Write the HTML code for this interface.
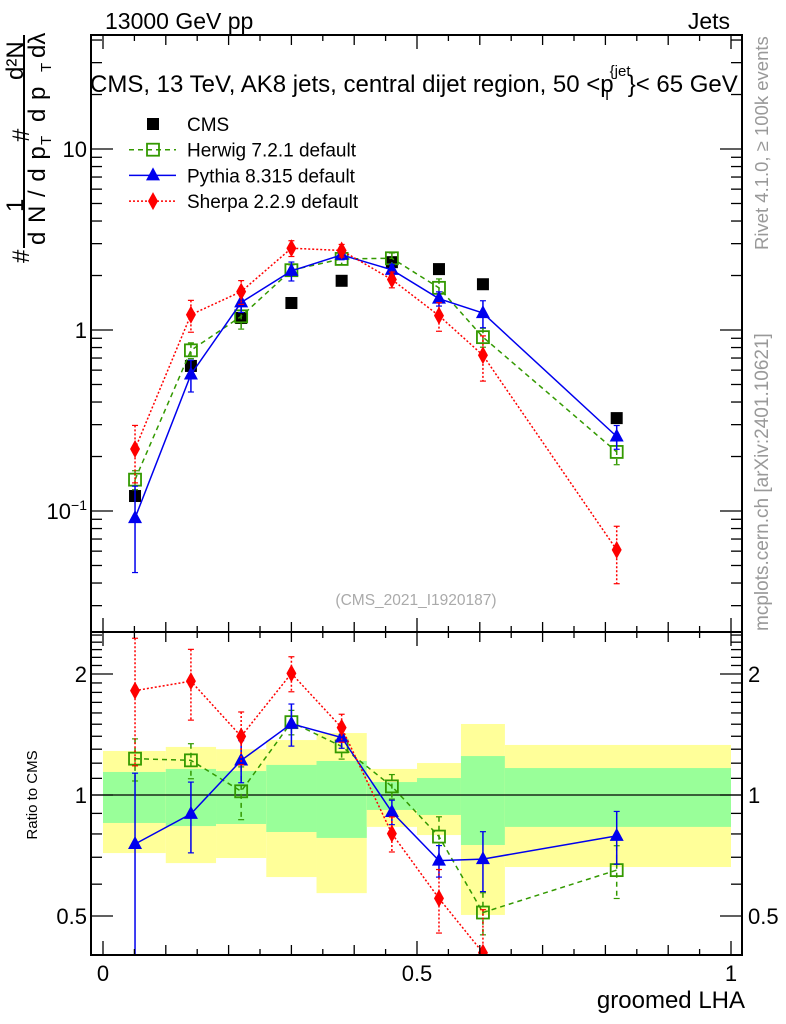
<!DOCTYPE html>
<html><head><meta charset="utf-8"><style>
html,body{margin:0;padding:0;background:#fff;overflow:hidden;width:786px;height:1024px;}
svg{display:block;font-family:"Liberation Sans",sans-serif;}
</style></head><body>
<svg id="c" width="786" height="1024" viewBox="0 0 786 1024" xmlns="http://www.w3.org/2000/svg">
<text x="105" y="29" font-size="23">13000 GeV pp</text>
<text x="730" y="29" font-size="23" text-anchor="end">Jets</text>
<text x="90" y="92" font-size="24">CMS, 13 TeV, AK8 jets, central dijet region, 50 &lt;p<tspan font-size="15" dy="-16" dx="-4">{jet</tspan><tspan font-size="15" dy="24" dx="-28">T</tspan><tspan dy="-8" dx="16">}&lt; 65 GeV</tspan></text>
<text transform="translate(768,250) rotate(-90)" font-size="18.5" fill="#999">Rivet 4.1.0, ≥ 100k events</text>
<text transform="translate(768,631) rotate(-90)" font-size="19" fill="#999">mcplots.cern.ch [arXiv:2401.10621]</text>
<text x="416" y="605" font-size="15.5" fill="#aaa" text-anchor="middle">(CMS_2021_I1920187)</text>
<g font-size="24">
<line x1="24" y1="35" x2="24" y2="248" stroke="#000" stroke-width="2"/>
<text transform="translate(29,263) rotate(-90)">#</text>
<text transform="translate(23,212) rotate(-90)">1</text>
<text transform="translate(45,245) rotate(-90)" letter-spacing="1">d N / d p</text>
<text transform="translate(51,145) rotate(-90)" font-size="15">T</text>
<text transform="translate(29,142) rotate(-90)">#</text>
<text transform="translate(23,80) rotate(-90)">d²N</text>
<text transform="translate(45,122) rotate(-90)" letter-spacing="1">d p</text>
<text transform="translate(51,72) rotate(-90)" font-size="15">T</text>
<text transform="translate(45,58) rotate(-90)">dλ</text>
</g>
<text transform="translate(37,795) rotate(-90)" font-size="15" text-anchor="middle">Ratio to CMS</text>
<text x="745" y="1008" font-size="24" text-anchor="end">groomed LHA</text>
<g id="bands"></g><g id="grid"></g><g id="series"></g><g id="axes"></g><g id="legend"></g>
</svg>
<script>
const xs = [0.051,0.14,0.22,0.30,0.38,0.46,0.535,0.605,0.818];
const cms = [0.121,0.633,1.165,1.41,1.87,2.37,2.17,1.79,0.326];
const herwig = [0.149,0.772,1.19,2.14,2.47,2.49,1.71,0.913,0.212];
const pythia = [0.0914,0.568,1.42,2.12,2.60,2.15,1.49,1.24,0.258];
const sherpa = [0.220,1.215,1.63,2.83,2.75,1.90,1.20,0.725,0.061];
const herwigErr = [0.12,0.1,0.15,0.07,0.07,0.07,0.12,0.12,0.15];
const pythiaErr = [0.5,0.2,0.12,0.12,0.06,0.07,0.09,0.17,0.15];
const sherpaErr = [0.35,0.2,0.15,0.1,0.08,0.1,0.18,0.28,0.35];
const binEdges = [0,0.1,0.18,0.26,0.34,0.42,0.5,0.57,0.64,1.0];
const band2Hi = [1.287,1.317,1.30,1.37,1.426,1.161,1.201,1.502,1.332];
const band1Hi = [1.141,1.161,1.147,1.188,1.215,1.077,1.102,1.25,1.167];
const band1Lo = [0.852,0.837,0.847,0.809,0.782,0.918,0.892,0.751,0.833];
const band2Lo = [0.717,0.677,0.697,0.625,0.570,0.833,0.795,0.503,0.662];
const mainTicks = [0.1,1,10];
const ratioTicks = [0.5,1,2];
const xTicks = [0,0.5,1];

const NS='http://www.w3.org/2000/svg';
const L=91,R=742,T=35,MB=632,RB=955;
const X=v=>103+v*628;
const Y=v=>330-181*Math.log10(v);
const YR=v=>795-121*Math.log2(v);
function mk(tag,attrs,parent){const e=document.createElementNS(NS,tag);for(const k in attrs)e.setAttribute(k,attrs[k]);document.getElementById(parent).appendChild(e);return e;}

for(let i=0;i<xs.length;i++){
  let r=mk('rect',{x:X(binEdges[i]),y:YR(band2Hi[i]),width:X(binEdges[i+1])-X(binEdges[i]),height:YR(band2Lo[i])-YR(band2Hi[i]),fill:'#ffff99'},'bands');
  
  
  let g=mk('rect',{x:X(binEdges[i]),y:YR(band1Hi[i]),width:X(binEdges[i+1])-X(binEdges[i]),height:YR(band1Lo[i])-YR(band1Hi[i]),fill:'#99ff99'},'bands');
  
  
}
mk('line',{x1:L,x2:R,y1:YR(1),y2:YR(1),stroke:'#000','stroke-width':1.2},'grid');

for(const [y0,y1] of [[T,MB],[MB,RB]]){
  const f=mk('rect',{x:L,y:y0,width:R-L,height:y1-y0,fill:'none',stroke:'#000','stroke-width':2},'axes');
  
  
}
for(let k=0;k<=20;k++){
  const v=k*0.05, x=X(v);
  const len = (k%10==0)?14:(k%2==0?10:6);
  for(const [yb,dir] of [[MB,-1],[T,1],[RB,-1],[MB,1]]){
    mk('line',{x1:x,x2:x,y1:yb,y2:yb+dir*len,stroke:'#000','stroke-width':1.3},'axes');
  }
}
xTicks.forEach(v=>{const t=mk('text',{x:X(v),y:981,'font-size':22,'text-anchor':'middle'},'axes');t.textContent=String(v);
  
  });
for(let d=-2;d<=1;d++)for(let m=1;m<=9;m++){
  const v=m*Math.pow(10,d), y=Y(v); if(y<T||y>MB)continue;
  const len=m==1?22:11;
  mk('line',{x1:L,x2:L+len,y1:y,y2:y,stroke:'#000','stroke-width':1.3},'axes');
  mk('line',{x1:R,x2:R-len,y1:y,y2:y,stroke:'#000','stroke-width':1.3},'axes');
}
mainTicks.forEach(v=>{const t=mk('text',{x:87,y:Y(v)+8,'font-size':22,'text-anchor':'end'},'axes');
  t.textContent = v==1?'1':'10';
  if(v==0.1){const s=document.createElementNS(NS,'tspan');s.setAttribute('dy','-9');s.setAttribute('font-size','14');s.textContent='−1';t.appendChild(s);}
  
  });
for(let k=4;k<=25;k++){
  const v=k/10,y=YR(v); if(y<MB||y>RB)continue;
  const len=(k==5||k==10||k==20)?22:11;
  mk('line',{x1:L,x2:L+len,y1:y,y2:y,stroke:'#000','stroke-width':1.3},'axes');
  mk('line',{x1:R,x2:R-len,y1:y,y2:y,stroke:'#000','stroke-width':1.3},'axes');
}
ratioTicks.forEach(v=>{
  const t=mk('text',{x:87,y:YR(v)+8,'font-size':22,'text-anchor':'end'},'axes');t.textContent=v==0.5?'0.5':String(v);
  
  
  const t2=mk('text',{x:748,y:YR(v)+8,'font-size':22},'axes');t2.textContent=v==0.5?'0.5':String(v);
  
  
});

const defs=mk('defs',{},'series');
defs.innerHTML='<clipPath id="clipMain"><rect x="91" y="35" width="651" height="597"/></clipPath><clipPath id="clipRatio"><rect x="91" y="632" width="651" height="323"/></clipPath>';
mk('g',{'clip-path':'url(#clipMain)',id:'gm'},'series');
mk('g',{'clip-path':'url(#clipRatio)',id:'gr'},'series');
function marker(kind,color,x,y,parent){
  let e;
  if(kind=='sq') e=mk('rect',{x:x-6,y:y-6,width:12,height:12,fill:'#000'},parent);
  else if(kind=='osq') e=mk('rect',{x:x-6,y:y-6,width:12,height:12,fill:'none',stroke:color,'stroke-width':1.8},parent);
  else if(kind=='tri') e=mk('polygon',{points:`${x},${y-8} ${x-7},${y+5} ${x+7},${y+5}`,fill:color},parent);
  else e=mk('polygon',{points:`${x},${y-9} ${x-5},${y} ${x},${y+9} ${x+5},${y}`,fill:color},parent);
  return e;
}
const models=[
 {name:'herwig',vals:herwig,err:herwigErr,color:'#339900',dash:'5,4',m:'osq'},
 {name:'pythia',vals:pythia,err:pythiaErr,color:'#0000ee',dash:'',m:'tri'},
 {name:'sherpa',vals:sherpa,err:sherpaErr,color:'#ff0000',dash:'2,2',m:'dia'}];
cms.forEach((v,i)=>{const e=marker('sq','#000',X(xs[i]),Y(v),'gm');
  
  });
models.forEach(md=>{
  for(const [gid,fy,ref] of [['gm',Y,null],['gr',YR,cms]]){
    const vv=md.vals.map((v,i)=>ref?v/ref[i]:v);
    const p=mk('polyline',{points:vv.map((v,i)=>X(xs[i])+','+fy(v)).join(' '),fill:'none',stroke:md.color,'stroke-width':1.5,'stroke-dasharray':md.dash},gid);
    
    
    vv.forEach((v,i)=>{
      const x=X(xs[i]),y1=fy(v*(1+md.err[i])),y2=fy(Math.max(v*(1-md.err[i]),1e-3));
      const eb=mk('line',{x1:x,x2:x,y1:y1,y2:y2,stroke:md.color,'stroke-width':1.5,'stroke-dasharray':md.dash},gid);
      
      
      mk('line',{x1:x-3,x2:x+3,y1:y1,y2:y1,stroke:md.color,'stroke-width':1.2},gid);
      mk('line',{x1:x-3,x2:x+3,y1:y2,y2:y2,stroke:md.color,'stroke-width':1.2},gid);
      const m=marker(md.m,md.color,x,fy(v),gid);
      
      
    });
  }
});
const leg=[['CMS','sq','#000',''],['Herwig 7.2.1 default','osq','#339900','5,4'],['Pythia 8.315 default','tri','#0000ee',''],['Sherpa 2.2.9 default','dia','#ff0000','2,2']];
leg.forEach((l,i)=>{
  const y=124+i*25.7;
  if(i>0){const ln=mk('line',{x1:129,x2:176,y1:y,y2:y,stroke:l[2],'stroke-width':1.5,'stroke-dasharray':l[3]},'legend');
    
    }
  const m=marker(l[1],l[2],153,y,'legend');
  
  
  const t=mk('text',{x:187,y:y+7,'font-size':19},'legend');t.textContent=l[0];
  
  
});
</script>
</body></html>
